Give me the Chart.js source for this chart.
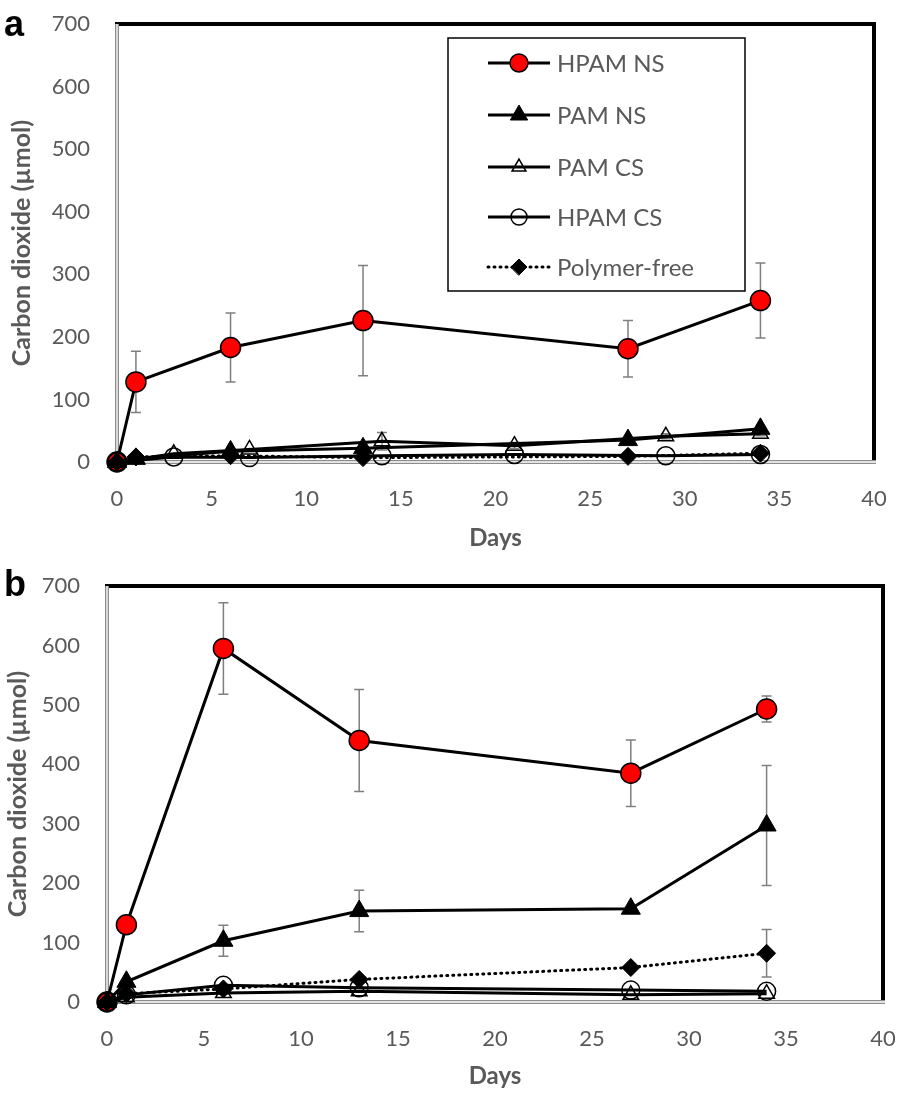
<!DOCTYPE html>
<html>
<head>
<meta charset="utf-8">
<script src="https://cdn.jsdelivr.net/npm/chart.js@4.4.0/dist/chart.umd.min.js"></script>
<style>
  body { margin: 0; background: #fff; width: 898px; height: 1095px; position: relative; overflow: hidden; }
  canvas { position: absolute; left: 0; }
  #chartA { top: 0; }
  #chartB { top: 548px; }
</style>
</head>
<body>
<canvas id="chartA" width="898" height="560"></canvas>
<canvas id="chartB" width="898" height="547"></canvas>
<script>
// ---- data ----
const seriesNames = ['HPAM NS', 'PAM NS', 'PAM CS', 'HPAM CS', 'Polymer-free'];
const xTicks = [0, 5, 10, 15, 20, 25, 30, 35, 40];
const yTicks = [0, 100, 200, 300, 400, 500, 600, 700];

// panel a
const daysA = [0, 1, 6, 13, 27, 34];
const daysCsA = [0, 3, 7, 14, 21, 29, 34];
const hpamNsA = [0, 128, 183, 226, 181, 258];
const hpamNsErrA = [0, 49, 55, 88, 45, 60];
const pamNsA = [0, 5, 17, 22, 35, 53];
const pamCsA = [0, 13, 20, 33, 26, 41, 45];
const pamCsErrA = [0, 0, 0, 14, 5, 4, 3];
const hpamCsA = [0, 8, 7, 10, 12, 10, 12];
const freeA = [0, 8, 10, 7, 9, 14];

// panel b
const daysB = [0, 1, 6, 13, 27, 34];
const hpamNsB = [0, 130, 595, 440, 385, 493];
const hpamNsErrB = [0, 0, 77, 86, 56, 22];
const pamNsB = [0, 34, 103, 153, 157, 297];
const pamNsErrB = [0, 0, 26, 35, 0, 101];
const pamCsB = [0, 8, 15, 18, 12, 14];
const hpamCsB = [0, 12, 28, 24, 20, 18];
const freeB = [0, 14, 22, 38, 58, 82];
const freeErrB = [0, 0, 0, 0, 6, 40];

const FONT = 'Lato, "Open Sans", sans-serif';
const GREY = '#595959';

const styles = [
  { pointStyle: 'circle', pointRadius: 10, pointBackgroundColor: '#ff0000', pointBorderColor: '#000', pointBorderWidth: 1.5 },
  { pointStyle: 'triangle', pointRadius: 11, pointBackgroundColor: '#000', pointBorderColor: '#000', pointBorderWidth: 1 },
  { pointStyle: 'triangle', pointRadius: 9, pointBackgroundColor: 'rgba(0,0,0,0)', pointBorderColor: '#000', pointBorderWidth: 1.5 },
  { pointStyle: 'circle', pointRadius: 9, pointBackgroundColor: 'rgba(0,0,0,0)', pointBorderColor: '#000', pointBorderWidth: 1.5 },
  { pointStyle: 'rectRot', pointRadius: 9, pointBackgroundColor: '#000', pointBorderColor: '#000', pointBorderWidth: 1, borderDash: [1, 5], borderCapStyle: 'round' }
];

function toPoints(days, vals) {
  return days.map((d, i) => ({ x: d, y: vals[i] }));
}

function makeSet(idx, days, vals, errs) {
  return Object.assign({
    label: seriesNames[idx],
    data: toPoints(days, vals),
    errors: errs || null,
    borderColor: '#000',
    borderWidth: 3,
    tension: 0,
    fill: false,
    clip: false,
    order: 4 - idx
  }, styles[idx]);
}

// frame: thick black top/right, grey double line left/bottom
const framePlugin = {
  id: 'frame',
  beforeDatasetsDraw(chart) {
    const { ctx, chartArea: a } = chart;
    ctx.save();
    ctx.strokeStyle = '#000';
    ctx.lineWidth = 4;
    ctx.beginPath();
    ctx.moveTo(a.left - 2, a.top);
    ctx.lineTo(a.right, a.top);
    ctx.lineTo(a.right, a.bottom);
    ctx.stroke();
    ctx.lineCap = 'butt';
    [['#8c8c8c', 4], ['#fff', 1.3]].forEach(([c, w]) => {
      ctx.strokeStyle = c;
      ctx.lineWidth = w;
      ctx.beginPath();
      ctx.moveTo(a.left, a.top);
      ctx.lineTo(a.left, a.bottom);
      ctx.lineTo(a.right + 2, a.bottom);
      ctx.stroke();
    });
    ctx.restore();
  }
};

const errorBarPlugin = {
  id: 'errorBars',
  beforeDatasetsDraw(chart) {
    const { ctx } = chart;
    const xs = chart.scales.x, ys = chart.scales.y;
    ctx.save();
    ctx.strokeStyle = '#7f7f7f';
    ctx.lineWidth = 1.5;
    chart.data.datasets.forEach(ds => {
      if (!ds.errors) return;
      ds.data.forEach((p, i) => {
        const e = ds.errors[i];
        if (!e) return;
        const px = xs.getPixelForValue(p.x);
        const top = ys.getPixelForValue(p.y + e);
        const bot = ys.getPixelForValue(p.y - e);
        ctx.beginPath();
        ctx.moveTo(px, top); ctx.lineTo(px, bot);
        ctx.moveTo(px - 5, top); ctx.lineTo(px + 5, top);
        ctx.moveTo(px - 5, bot); ctx.lineTo(px + 5, bot);
        ctx.stroke();
      });
    });
    ctx.restore();
  }
};

function drawMarker(ctx, st, x, y) {
  ctx.save();
  ctx.fillStyle = st.pointBackgroundColor;
  ctx.strokeStyle = st.pointBorderColor;
  ctx.lineWidth = st.pointBorderWidth;
  Chart.helpers.drawPoint(ctx, { pointStyle: st.pointStyle, radius: st.pointRadius - 1, rotation: 0, borderWidth: st.pointBorderWidth }, x, y);
  ctx.restore();
}

const legendPlugin = {
  id: 'boxLegend',
  afterDraw(chart, args, opts) {
    if (!opts.show) return;
    const { ctx } = chart;
    ctx.save();
    ctx.strokeStyle = '#000';
    ctx.lineWidth = 1.5;
    ctx.strokeRect(448, 38, 297, 253);
    const rows = [63, 115, 167, 217, 267];
    rows.forEach((ry, i) => {
      const st = styles[i];
      ctx.strokeStyle = '#000';
      ctx.lineWidth = 3;
      ctx.setLineDash(st.borderDash || []);
      ctx.lineCap = st.borderDash ? 'round' : 'butt';
      ctx.beginPath();
      ctx.moveTo(488, ry); ctx.lineTo(550, ry);
      ctx.stroke();
      ctx.setLineDash([]);
      drawMarker(ctx, st, 519, ry);
      ctx.fillStyle = GREY;
      ctx.font = '24px ' + FONT;
      ctx.textAlign = 'left';
      ctx.textBaseline = 'middle';
      ctx.fillText(seriesNames[i], 557, ry + 1);
    });
    ctx.restore();
  }
};

const panelLabelPlugin = {
  id: 'panelLabel',
  afterDraw(chart, args, opts) {
    const { ctx } = chart;
    ctx.save();
    ctx.fillStyle = '#000';
    ctx.font = 'bold 36px "Liberation Sans", Arial, sans-serif';
    ctx.textAlign = 'left';
    ctx.textBaseline = 'alphabetic';
    ctx.fillText(opts.text, opts.x, opts.y);
    ctx.restore();
  }
};

function noPad(s) {
  s.paddingTop = 0; s.paddingBottom = 0; s.paddingLeft = 0; s.paddingRight = 0;
}

function makeChart(id, datasets, geo, label) {
  return new Chart(document.getElementById(id), {
    type: 'line',
    data: { datasets: datasets },
    plugins: [framePlugin, errorBarPlugin, legendPlugin, panelLabelPlugin],
    options: {
      responsive: false,
      animation: false,
      events: [],
      layout: { padding: { left: 0, top: geo.top, right: geo.right, bottom: 0 } },
      scales: {
        x: {
          type: 'linear', min: 0, max: 40,
          afterBuildTicks: s => { s.ticks = xTicks.map(v => ({ value: v })); },
          afterFit: s => { s.height = geo.xh; noPad(s); },
          grid: { display: false, drawTicks: false },
          border: { display: false },
          ticks: { color: GREY, font: { family: FONT, size: 22 }, padding: geo.xpad, maxRotation: 0 },
          title: { display: true, text: 'Days', color: GREY, font: { family: FONT, size: 24, weight: 'bold' }, padding: { top: 0, bottom: geo.tpad } }
        },
        y: {
          type: 'linear', min: 0, max: 700,
          afterBuildTicks: s => { s.ticks = yTicks.map(v => ({ value: v })); },
          afterFit: s => { s.width = geo.yw; noPad(s); },
          grid: { display: false, drawTicks: false },
          border: { display: false },
          ticks: { color: GREY, font: { family: FONT, size: 22 }, padding: 27 },
          title: { display: true, text: 'Carbon dioxide (µmol)', color: GREY, font: { family: FONT, size: 25, weight: 'bold' }, padding: { top: geo.ytpad, bottom: 0 } }
        }
      },
      plugins: {
        legend: { display: false },
        tooltip: { enabled: false },
        boxLegend: { show: label.legend },
        panelLabel: label
      }
    }
  });
}

makeChart('chartA', [
  makeSet(0, daysA, hpamNsA, hpamNsErrA),
  makeSet(1, daysA, pamNsA),
  makeSet(2, daysCsA, pamCsA, pamCsErrA),
  makeSet(3, daysCsA, hpamCsA),
  makeSet(4, daysA, freeA)
], { top: 24, right: 24, xh: 98, yw: 117, xpad: 24, tpad: 7, ytpad: 7 },
   { text: 'a', x: 4, y: 36, legend: true });

makeChart('chartB', [
  makeSet(0, daysB, hpamNsB, hpamNsErrB),
  makeSet(1, daysB, pamNsB, pamNsErrB),
  makeSet(2, daysB, pamCsB),
  makeSet(3, daysB, hpamCsB),
  makeSet(4, daysB, freeB, freeErrB)
], { top: 38, right: 15, xh: 93, yw: 107, xpad: 24, tpad: 4, ytpad: 3 },
   { text: 'b', x: 4, y: 48, legend: false });
</script>
</body>
</html>
